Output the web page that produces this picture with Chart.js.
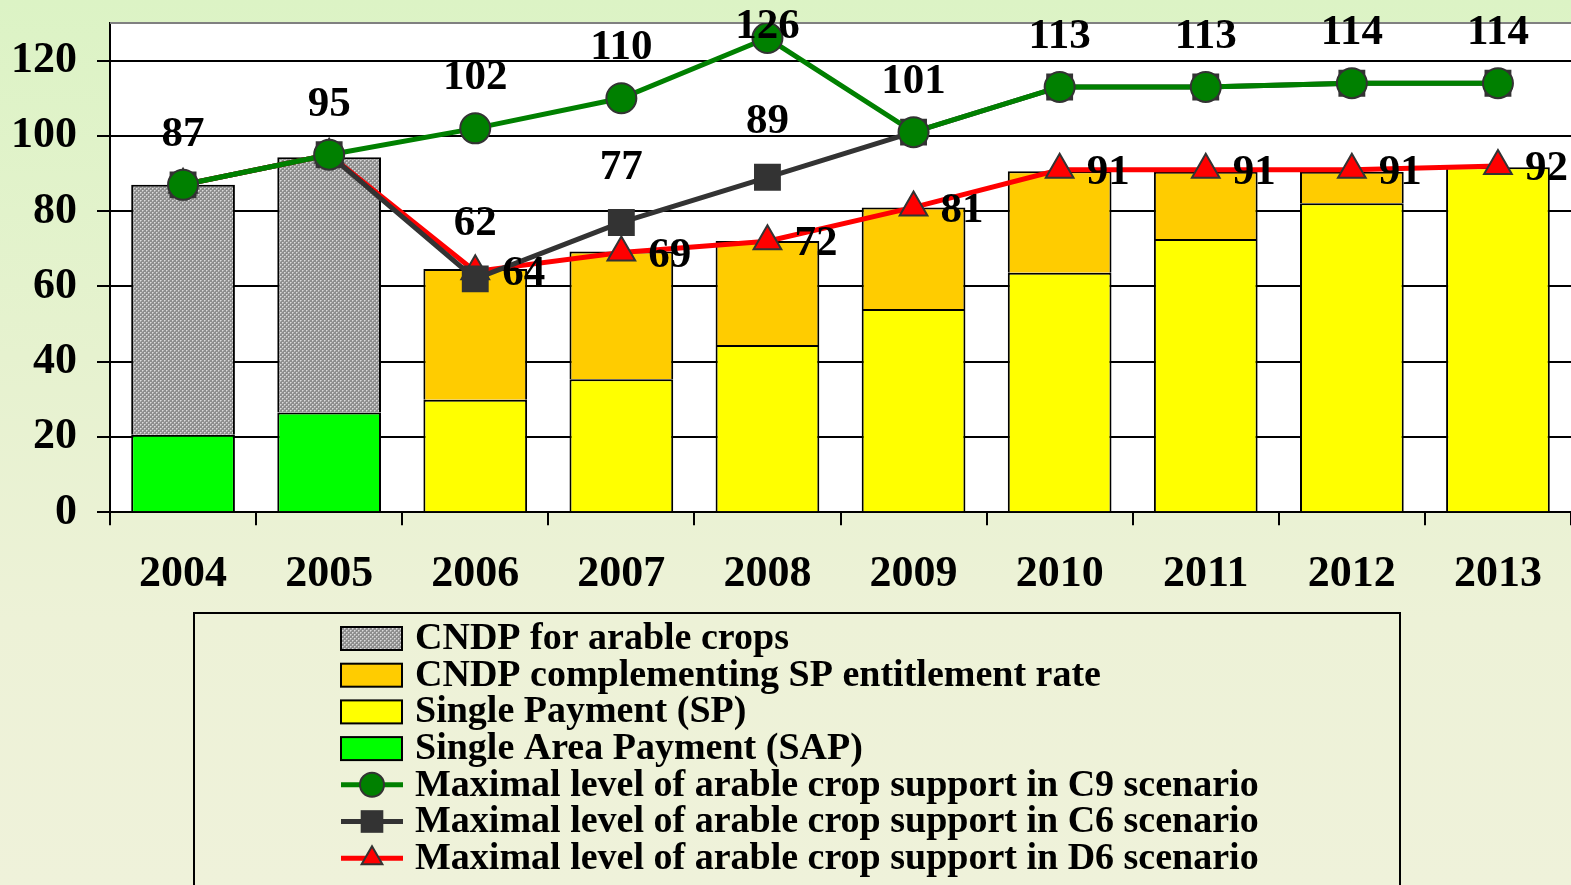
<!DOCTYPE html>
<html>
<head>
<meta charset="utf-8">
<title>Arable crop support</title>
<script src="https://cdn.jsdelivr.net/npm/chart.js@4.4.0/dist/chart.umd.min.js"></script>
<style>
    html, body { margin: 0; padding: 0; overflow: hidden; }
    body {
        width: 1571px;
        height: 885px;
        background: linear-gradient(to bottom, #dcf3c5 0%, #e6f2cf 40%, #edf2d7 70%, #eff2da 100%);
    }
    canvas { display: block; }
</style>
</head>
<body>
<canvas id="supportChart" width="1571" height="885"></canvas>
<script>
// ----------- Data -----------
const years = ['2004', '2005', '2006', '2007', '2008', '2009', '2010', '2011', '2012', '2013'];
const yTickValues = [0, 20, 40, 60, 80, 100, 120];

const sapValues = [20.6, 26.5, null, null, null, null, null, null, null, null];
const spValues = [null, null, 29.9, 35.3, 44.4, 54.0, 63.6, 72.6, 82.1, 91.7];
const cndpComplValues = [null, null, 34.7, 34.0, 27.7, 27.0, 27.0, 17.9, 8.4, null];
const cndpArableValues = [66.4, 67.8, null, null, null, null, null, null, null, null];

const c9Values = [87, 95, 102, 110, 126, 101, 113, 113, 114, 114];
const c6Values = [87, 95, 62, 77, 89, 101, 113, 113, 114, 114];
const d6Values = [87, 95, 64, 69, 72, 81, 91, 91, 91, 92];

const FONT = '"Liberation Serif", "Times New Roman", serif';

// ----------- Gray dotted fill for CNDP arable crops -----------
function makeGrayPattern() {
    const tile = document.createElement('canvas');
    tile.width = 4;
    tile.height = 4;
    const t = tile.getContext('2d');
    t.fillStyle = '#8e8e8e';
    t.fillRect(0, 0, 4, 4);
    t.fillStyle = '#dcdcdc';
    t.fillRect(0, 0, 1, 1);
    t.fillRect(2, 2, 1, 1);
    t.fillStyle = '#b8b8b8';
    t.fillRect(1, 0, 1, 1);
    t.fillRect(3, 2, 1, 1);
    t.fillRect(0, 1, 1, 1);
    t.fillRect(2, 3, 1, 1);
    return t.createPattern(tile, 'repeat');
}

// ----------- Plugins -----------
const plotBackground = {
    id: 'plotBackground',
    beforeDraw(chart) {
        const { ctx, chartArea: a } = chart;
        ctx.save();
        ctx.fillStyle = '#ffffff';
        ctx.fillRect(a.left, a.top, a.right - a.left, a.bottom - a.top);
        ctx.restore();
    },
    beforeDatasetsDraw(chart) {
        const { ctx, chartArea: a } = chart;
        ctx.save();
        ctx.strokeStyle = '#808080';
        ctx.lineWidth = 2;
        ctx.beginPath();
        ctx.moveTo(a.left, a.top);
        ctx.lineTo(a.right, a.top);
        ctx.stroke();
        ctx.restore();
    }
};

const valueLabels = {
    id: 'valueLabels',
    afterDatasetsDraw(chart) {
        const ctx = chart.ctx;
        ctx.save();
        ctx.font = 'bold 43px ' + FONT;
        ctx.fillStyle = '#000';
        ctx.textBaseline = 'middle';
        chart.data.datasets.forEach((ds, i) => {
            if (!ds.valueLabel) return;
            const meta = chart.getDatasetMeta(i);
            meta.data.forEach((pt, j) => {
                const v = ds.data[j];
                if (v == null) return;
                if (ds.hideWhenEqual && ds.hideWhenEqual[j] === v) return;
                const lab = ds.valueLabel;
                ctx.textAlign = lab.align;
                const y = Math.max(pt.y + lab.dy, 27);
                ctx.fillText(String(v), pt.x + lab.dx, y);
            });
        });
        ctx.restore();
    }
};

function drawMarker(ctx, style, x, y, r, fill, stroke) {
    ctx.fillStyle = fill;
    ctx.strokeStyle = stroke;
    ctx.lineWidth = 2;
    ctx.beginPath();
    if (style === 'circle') {
        ctx.arc(x, y, r, 0, Math.PI * 2);
    } else if (style === 'rect') {
        ctx.rect(x - r * 0.7071, y - r * 0.7071, r * 1.4142, r * 1.4142);
    } else {
        ctx.moveTo(x, y - r);
        ctx.lineTo(x + r * 0.866, y + r / 2);
        ctx.lineTo(x - r * 0.866, y + r / 2);
        ctx.closePath();
    }
    ctx.fill();
    if (style !== 'rect') ctx.stroke();
}

const boxLegend = {
    id: 'boxLegend',
    afterDraw(chart) {
        const ctx = chart.ctx;
        const ds = chart.data.datasets;
        // bars listed top of stack first, then the lines
        const order = [3, 2, 1, 0, 4, 5, 6];
        ctx.save();
        ctx.strokeStyle = '#000';
        ctx.lineWidth = 2;
        ctx.strokeRect(194, 613, 1206, 320);

        ctx.font = 'bold 38px ' + FONT;
        ctx.textBaseline = 'middle';
        ctx.textAlign = 'left';
        order.forEach((idx, row) => {
            const d = ds[idx];
            const y = 638 + row * 36.7;
            if (d.type === 'line') {
                ctx.strokeStyle = d.borderColor;
                ctx.lineWidth = 5;
                ctx.beginPath();
                ctx.moveTo(341, y);
                ctx.lineTo(403, y);
                ctx.stroke();
                drawMarker(ctx, d.pointStyle, 372, y, d.pointStyle === 'rect' ? 16 : 12,
                    d.pointBackgroundColor, d.pointBorderColor);
            } else {
                ctx.fillStyle = d.backgroundColor;
                ctx.fillRect(341, y - 11, 61, 23);
                ctx.strokeStyle = '#000';
                ctx.lineWidth = 2;
                ctx.strokeRect(341, y - 11, 61, 23);
            }
            ctx.fillStyle = '#000';
            ctx.fillText(d.label, 415, y + 1);
        });
        ctx.restore();
    }
};

// ----------- Chart -----------
document.addEventListener('DOMContentLoaded', () => {
    const canvas = document.getElementById('supportChart');
    const ctx = canvas.getContext('2d');
    const grayPattern = makeGrayPattern();

    const barStyle = {
        type: 'bar',
        stack: 'bars',
        order: 10,
        borderColor: '#000',
        borderWidth: 2,
        barPercentage: 0.71,
        categoryPercentage: 1.0
    };

    new Chart(ctx, {
        data: {
            labels: years,
            datasets: [
                Object.assign({ label: 'Single Area Payment (SAP)', data: sapValues, backgroundColor: '#00ff00' }, barStyle),
                Object.assign({ label: 'Single Payment (SP)', data: spValues, backgroundColor: '#ffff00' }, barStyle),
                Object.assign({ label: 'CNDP complementing SP entitlement rate', data: cndpComplValues, backgroundColor: '#ffcc00' }, barStyle),
                Object.assign({ label: 'CNDP for arable crops', data: cndpArableValues, backgroundColor: grayPattern }, barStyle),
                {
                    type: 'line',
                    label: 'Maximal level of arable crop support in C9 scenario',
                    data: c9Values,
                    stack: 'c9',
                    order: 0,
                    borderColor: '#008000',
                    borderWidth: 5,
                    pointStyle: 'circle',
                    pointRadius: 15,
                    pointBackgroundColor: '#008000',
                    pointBorderColor: '#333333',
                    pointBorderWidth: 2,
                    tension: 0,
                    valueLabel: { dx: 0, dy: -50, align: 'center' }
                },
                {
                    type: 'line',
                    label: 'Maximal level of arable crop support in C6 scenario',
                    data: c6Values,
                    stack: 'c6',
                    order: 1,
                    borderColor: '#333333',
                    borderWidth: 5,
                    pointStyle: 'rect',
                    pointRadius: 19,
                    pointBackgroundColor: '#333333',
                    pointBorderColor: '#333333',
                    pointBorderWidth: 0,
                    tension: 0,
                    hideWhenEqual: c9Values,
                    valueLabel: { dx: 0, dy: -55, align: 'center' }
                },
                {
                    type: 'line',
                    label: 'Maximal level of arable crop support in D6 scenario',
                    data: d6Values,
                    stack: 'd6',
                    order: 2,
                    borderColor: '#ff0000',
                    borderWidth: 5,
                    pointStyle: 'triangle',
                    pointRadius: 16,
                    pointBackgroundColor: '#ff0000',
                    pointBorderColor: '#333333',
                    pointBorderWidth: 2,
                    tension: 0,
                    hideWhenEqual: c6Values,
                    valueLabel: { dx: 27, dy: 3, align: 'left' }
                }
            ]
        },
        options: {
            responsive: false,
            animation: false,
            layout: { autoPadding: false, padding: { left: 0, right: 0, top: 23, bottom: 261 } },
            plugins: {
                legend: { display: false },
                tooltip: { enabled: false }
            },
            scales: {
                x: {
                    stacked: true,
                    afterFit: scale => {
                        scale.paddingLeft = 0;
                        scale.paddingRight = 0;
                    },
                    grid: {
                        offset: true,
                        drawOnChartArea: false,
                        drawTicks: true,
                        tickLength: 13,
                        color: '#000',
                        lineWidth: 2
                    },
                    border: { display: true, color: '#000', width: 2 },
                    ticks: {
                        color: '#000',
                        font: { family: FONT, size: 44, weight: 'bold' },
                        padding: 23,
                        maxRotation: 0
                    }
                },
                y: {
                    stacked: true,
                    min: 0,
                    max: 130,
                    afterBuildTicks: scale => {
                        scale.ticks = yTickValues.map(v => ({ value: v }));
                    },
                    afterFit: scale => {
                        scale.width = 110;
                        scale.paddingTop = 0;
                        scale.paddingBottom = 0;
                    },
                    grid: {
                        color: '#000',
                        lineWidth: 2,
                        tickLength: 13
                    },
                    border: { display: true, color: '#000', width: 2 },
                    ticks: {
                        color: '#000',
                        font: { family: FONT, size: 44, weight: 'bold' },
                        padding: 20
                    }
                }
            }
        },
        plugins: [plotBackground, valueLabels, boxLegend]
    });
});
</script>
</body>
</html>
